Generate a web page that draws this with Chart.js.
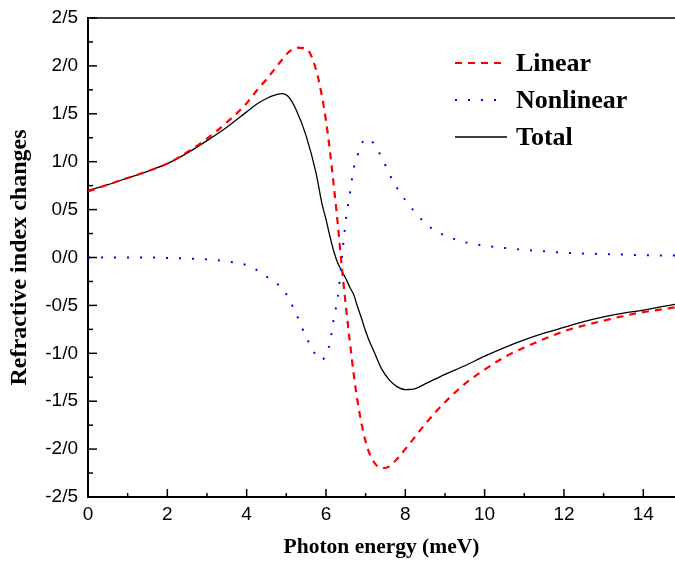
<!DOCTYPE html>
<html lang="en">
<head>
<meta charset="UTF-8" />
<title>Refractive index changes</title>
<script src="https://cdn.jsdelivr.net/npm/chart.js"></script>
<style>
  body { margin: 0; background: #fff; }
  #wrap { width: 675px; height: 561px; }
</style>
</head>
<body>
<div id="wrap"><canvas id="chart" width="675" height="561"></canvas></div>
<script>
// values
const energy = [0, 0.5, 1, 1.5, 2, 2.5, 3, 3.5, 4, 4.25, 4.5, 4.75, 4.9, 5.05, 5.25, 5.5, 5.75, 5.9, 6, 6.1, 6.2, 6.3, 6.4, 6.5, 6.6, 6.7, 6.8, 6.9, 7, 7.1, 7.2, 7.4, 7.6, 7.8, 8, 8.25, 8.5, 8.75, 9, 9.5, 10, 10.5, 11, 11.5, 12, 12.5, 13, 13.5, 14, 14.5, 14.8];
const linear = [0.69, 0.76, 0.83, 0.9, 0.98, 1.1, 1.24, 1.41, 1.61, 1.74, 1.86, 1.99, 2.07, 2.14, 2.19, 2.18, 1.96, 1.68, 1.43, 1.11, 0.74, 0.34, -0.1, -0.5, -0.87, -1.22, -1.51, -1.74, -1.92, -2.05, -2.13, -2.2, -2.18, -2.1, -2.0, -1.87, -1.74, -1.62, -1.51, -1.32, -1.17, -1.04, -0.94, -0.85, -0.77, -0.71, -0.66, -0.61, -0.57, -0.54, -0.52];
const nonlinear = [0, 0, 0, 0, -0.005, -0.01, -0.02, -0.04, -0.08, -0.13, -0.2, -0.27, -0.32, -0.42, -0.59, -0.83, -1.02, -1.07, -1.01, -0.89, -0.63, -0.41, -0.01, 0.39, 0.66, 0.93, 1.07, 1.19, 1.23, 1.24, 1.19, 1.05, 0.87, 0.72, 0.6, 0.47, 0.36, 0.28, 0.23, 0.16, 0.125, 0.1, 0.08, 0.065, 0.05, 0.042, 0.035, 0.03, 0.025, 0.02, 0.02];
const total = [0.7, 0.76, 0.83, 0.9, 0.98, 1.09, 1.22, 1.36, 1.52, 1.6, 1.66, 1.7, 1.71, 1.68, 1.54, 1.27, 0.88, 0.56, 0.4, 0.22, 0.06, -0.06, -0.14, -0.22, -0.31, -0.39, -0.52, -0.64, -0.77, -0.88, -0.97, -1.16, -1.28, -1.35, -1.38, -1.37, -1.32, -1.27, -1.22, -1.13, -1.03, -0.94, -0.86, -0.79, -0.73, -0.67, -0.62, -0.58, -0.55, -0.51, -0.49];

const xTicks = [0, 2, 4, 6, 8, 10, 12, 14];
const yTicks = [-2.5, -2, -1.5, -1, -0.5, 0, 0.5, 1, 1.5, 2, 2.5];
const yTickLabels = ['-2/5', '-2/0', '-1/5', '-1/0', '-0/5', '0/0', '0/5', '1/0', '1/5', '2/0', '2/5'];
const seriesNames = ['Linear', 'Nonlinear', 'Total'];

const pts = arr => energy.map((e, i) => ({ x: e, y: arr[i] }));

// inward ticks, top frame line and the legend box
const framePlugin = {
  id: 'frame',
  afterDatasetsDraw(chart) {
    const { ctx, chartArea, scales: { x, y } } = chart;
    ctx.save();
    ctx.strokeStyle = '#000';
    ctx.lineWidth = 1.5;
    ctx.setLineDash([]);
    // top border
    ctx.beginPath();
    ctx.moveTo(chartArea.left, chartArea.top);
    ctx.lineTo(chartArea.right, chartArea.top);
    ctx.stroke();
    // y ticks
    for (let i = 0; i < yTicks.length; i++) {
      const py = y.getPixelForValue(yTicks[i]);
      ctx.beginPath();
      ctx.moveTo(chartArea.left, py);
      ctx.lineTo(chartArea.left + 9, py);
      ctx.stroke();
      if (i < yTicks.length - 1) {
        const pm = y.getPixelForValue((yTicks[i] + yTicks[i + 1]) / 2);
        ctx.beginPath();
        ctx.moveTo(chartArea.left, pm);
        ctx.lineTo(chartArea.left + 5, pm);
        ctx.stroke();
      }
    }
    // x ticks
    for (let i = 0; i < xTicks.length; i++) {
      const px = x.getPixelForValue(xTicks[i]);
      ctx.beginPath();
      ctx.moveTo(px, chartArea.bottom);
      ctx.lineTo(px, chartArea.bottom - 8);
      ctx.stroke();
      const pm = x.getPixelForValue(xTicks[i] + 1);
      if (pm < chartArea.right) {
        ctx.beginPath();
        ctx.moveTo(pm, chartArea.bottom);
        ctx.lineTo(pm, chartArea.bottom - 4);
        ctx.stroke();
      }
    }
    // legend
    const rows = [63, 100, 137];
    chart.data.datasets.forEach((ds, i) => {
      ctx.strokeStyle = ds.borderColor;
      ctx.lineWidth = ds.borderWidth;
      ctx.setLineDash(ds.borderDash || []);
      ctx.beginPath();
      ctx.moveTo(455, rows[i]);
      ctx.lineTo(507, rows[i]);
      ctx.stroke();
      ctx.setLineDash([]);
      ctx.fillStyle = '#000';
      ctx.font = 'bold 26px "Liberation Serif", "Times New Roman", serif';
      ctx.textBaseline = 'middle';
      ctx.textAlign = 'left';
      ctx.fillText(seriesNames[i], 516, rows[i] + 1);
    });
    ctx.restore();
  }
};

new Chart(document.getElementById('chart'), {
  type: 'line',
  data: {
    datasets: [
      { label: seriesNames[0], data: pts(linear), borderColor: '#ff0000', borderWidth: 2.2, borderDash: [7, 6], pointRadius: 0, cubicInterpolationMode: 'monotone', fill: false },
      { label: seriesNames[1], data: pts(nonlinear), borderColor: '#0000ff', borderWidth: 2, borderDash: [2, 11], pointRadius: 0, cubicInterpolationMode: 'monotone', fill: false },
      { label: seriesNames[2], data: pts(total), borderColor: '#000000', borderWidth: 1.3, pointRadius: 0, cubicInterpolationMode: 'monotone', fill: false }
    ]
  },
  options: {
    responsive: false,
    animation: false,
    devicePixelRatio: 1,
    layout: { padding: { top: 18, right: 0, bottom: 0, left: 0 } },
    plugins: { legend: { display: false }, tooltip: { enabled: false } },
    scales: {
      x: {
        type: 'linear',
        min: 0,
        max: 14.8,
        afterFit: s => { s.height = 64; s.paddingLeft = 0; s.paddingRight = 0; },
        afterBuildTicks: s => { s.ticks = xTicks.map(v => ({ value: v })); },
        grid: { display: false, drawTicks: false },
        border: { display: true, color: '#000', width: 2 },
        ticks: {
          color: '#000',
          padding: 6,
          maxRotation: 0,
          font: { family: '"Liberation Sans", Arial, sans-serif', size: 19 }
        },
        title: {
          display: true,
          text: 'Photon energy (meV)',
          color: '#000',
          font: { family: '"Liberation Serif", "Times New Roman", serif', size: 21.5, weight: 'bold' },
          padding: { top: 0, bottom: 1 }
        }
      },
      y: {
        min: -2.5,
        max: 2.5,
        afterFit: s => { s.width = 88; s.paddingTop = 0; s.paddingBottom = 0; },
        afterBuildTicks: s => { s.ticks = yTicks.map(v => ({ value: v })); },
        grid: { display: false, drawTicks: false },
        border: { display: true, color: '#000', width: 2 },
        ticks: {
          color: '#000',
          padding: 10,
          font: { family: '"Liberation Sans", Arial, sans-serif', size: 19 },
          callback: v => yTickLabels[yTicks.indexOf(v)]
        },
        title: {
          display: true,
          text: 'Refractive index changes',
          color: '#000',
          font: { family: '"Liberation Serif", "Times New Roman", serif', size: 24, weight: 'bold' },
          padding: { top: 5, bottom: 0 }
        }
      }
    }
  },
  plugins: [framePlugin]
});
</script>
</body>
</html>
